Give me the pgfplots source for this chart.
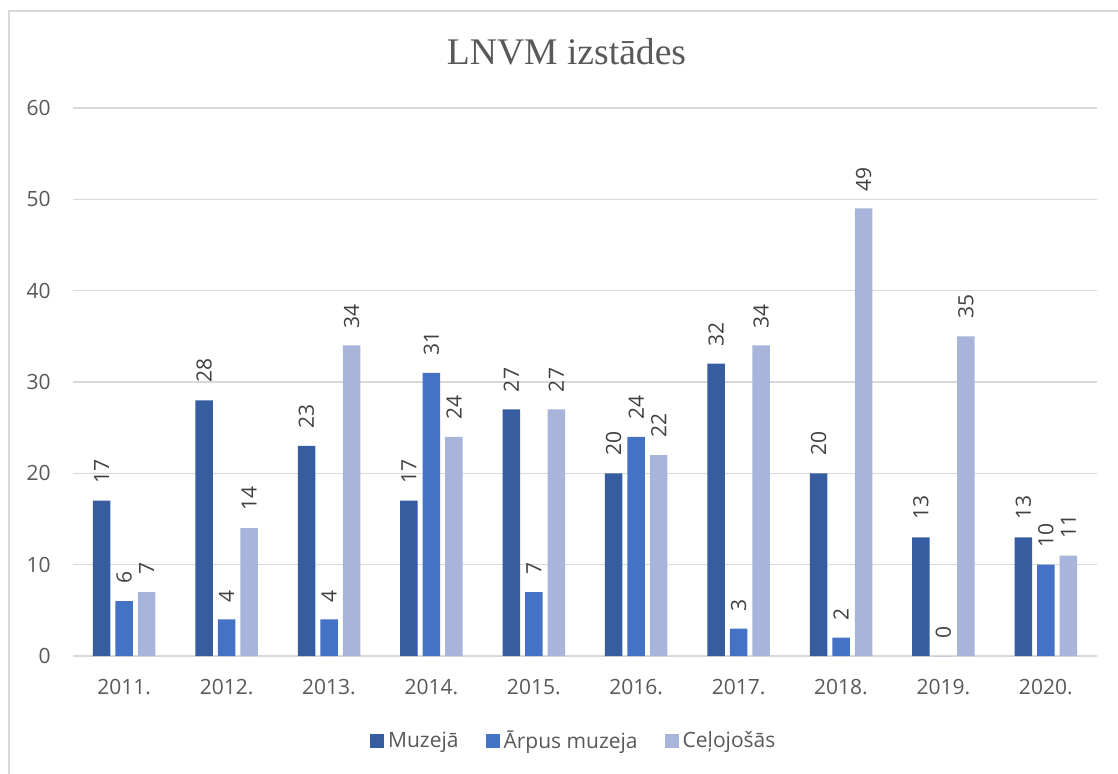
\documentclass[border=0pt]{standalone}
\usepackage{pgfplots}
\pgfplotsset{compat=1.18}
\usepackage{fontspec}
\setmainfont{Open Sans}
\newfontfamily\titlefont{Liberation Serif}
\definecolor{cdark}{HTML}{355DA0}
\definecolor{cmid}{HTML}{4472C4}
\definecolor{clight}{HTML}{A8B5DA}
\definecolor{cgrid}{HTML}{D9D9D9}
\definecolor{ctext}{HTML}{595959}
\definecolor{clab}{HTML}{404040}
\begin{document}
\begin{tikzpicture}
\useasboundingbox (0,0) rectangle (559pt,386.5pt);
\fill[white] (0,0) rectangle (559pt,386.5pt);
\draw[cgrid, line width=0.75pt] (4.5pt,-5pt) rectangle (565pt,381pt);
\node[anchor=base, text=ctext, font=\titlefont\fontsize{18.8}{22}\selectfont] at (283.25pt,354pt) {LNVM izstādes};
\begin{axis}[
  at={(36.5pt,58.5pt)}, anchor=south west,
  scale only axis, width=512pt, height=274pt,
  ybar=2.5pt, bar width=8.75pt,
  xmin=-0.5, xmax=9.5, ymin=0, ymax=60,
  enlarge x limits=false,
  xtick={0,...,9},
  xticklabels={2011.,2012.,2013.,2014.,2015.,2016.,2017.,2018.,2019.,2020.},
  ytick={0,10,...,60},
  major tick length=0pt,
  axis line style={draw=none},
  ymajorgrids, grid style={cgrid, line width=0.75pt},
  /pgf/number format/assume math mode=true,
  tick label style={font=\fontsize{10.5}{12}\selectfont, text=ctext},
  xticklabel style={anchor=base, inner sep=0pt, yshift=-19pt},
  yticklabel style={anchor=east, inner sep=0pt, xshift=-11pt},
  nodes near coords,
  nodes near coords style={rotate=90, anchor=west, inner ysep=0pt, inner xsep=8.5pt, font=\fontsize{10.5}{12}\selectfont, text=clab},
  legend columns=3,
  legend style={draw=none, fill=none, at={(0.49,-0.155)}, anchor=center, font=\fontsize{10.5}{12}\selectfont, text=ctext, /tikz/every even column/.append style={column sep=11.5pt}},
  legend image code/.code={\fill[#1] (0pt,-3.5pt) rectangle (7pt,3.5pt);},
]
\addplot[fill=cdark, draw=none] coordinates {(0,17) (1,28) (2,23) (3,17) (4,27) (5,20) (6,32) (7,20) (8,13) (9,13)};
\addplot[fill=cmid, draw=none] coordinates {(0,6) (1,4) (2,4) (3,31) (4,7) (5,24) (6,3) (7,2) (8,0) (9,10)};
\addplot[fill=clight, draw=none] coordinates {(0,7) (1,14) (2,34) (3,24) (4,27) (5,22) (6,34) (7,49) (8,35) (9,11)};
\legend{Muzejā,Ārpus muzeja,Ceļojošās}
\end{axis}
\end{tikzpicture}
\end{document}
